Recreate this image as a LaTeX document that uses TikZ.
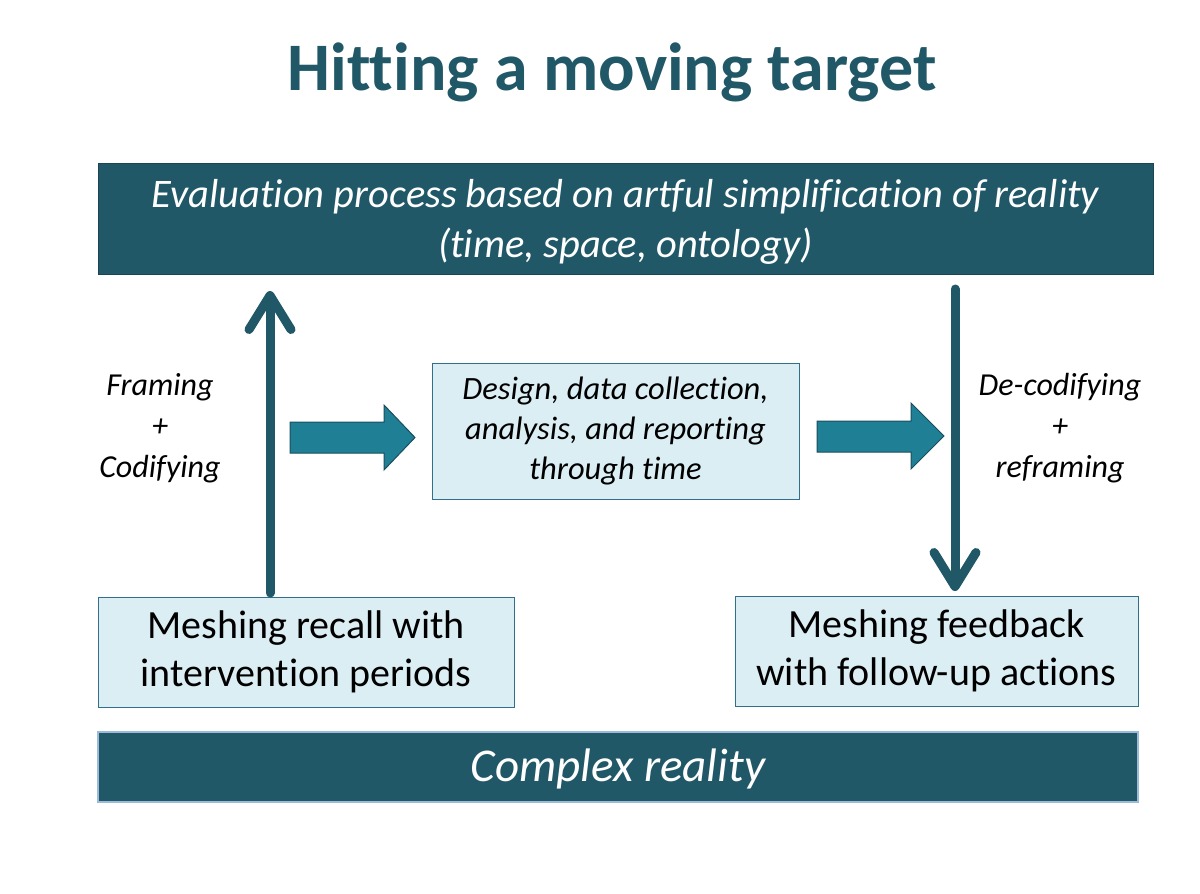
\documentclass[tikz,border=0pt]{standalone}
\usepackage{fontspec}
\setmainfont{Carlito}[Ligatures=NoCommon]
\usetikzlibrary{arrows.meta}
\definecolor{darkteal}{HTML}{215868}
\definecolor{boxline}{HTML}{1B4552}
\definecolor{lightfill}{HTML}{DBEEF4}
\definecolor{lightline}{HTML}{31708A}
\definecolor{blockfill}{HTML}{1F7F95}
\definecolor{blockline}{HTML}{1A4E5E}
\definecolor{paleborder}{HTML}{9BBBD9}
\tikzset{
  darkbox/.style={draw=boxline, line width=1pt, fill=darkteal, text=white, inner sep=0pt},
  lightbox/.style={draw=lightline, line width=1pt, fill=lightfill, text=black, inner sep=0pt, align=center},
  sidelabel/.style={align=center, font=\fontsize{32}{41}\selectfont\itshape, inner sep=0pt},
  bigarrow/.style={draw=darkteal, line width=9pt, line cap=round, -{Straight Barb[length=34pt, width=42pt, round]}},
  blockarrow/.style={fill=blockfill, draw=blockline, line width=1pt, line join=miter}
}
\begin{document}
\begin{tikzpicture}[x=1pt, y=-1pt]
\useasboundingbox (0,0) rectangle (1200,894);
% title
\node[text=darkteal, font=\fontsize{68}{76}\selectfont\bfseries, anchor=base] (title) at (612,90) {Hitting a moving target};
% top box
\draw[darkbox] (98,163) rectangle (1153,274);
\node[text=white, align=center, font=\fontsize{40.5}{50}\selectfont\itshape] (top) at (625.5,222) {Evaluation process based on artful simplification of reality\\(time, space, ontology)};
% bottom box
\draw[fill=darkteal, draw=paleborder, line width=1.2pt] (98,732) rectangle (1138,802);
\node[text=white, font=\fontsize{47}{54}\selectfont\itshape] (reality) at (618,769) {Complex reality};
% left bottom box
\node[lightbox, minimum width=416pt, minimum height=110pt, font=\fontsize{40}{48}\selectfont] (recall) at (306,652) {Meshing recall with\\intervention periods};
% right bottom box
\node[lightbox, minimum width=403pt, minimum height=110pt, font=\fontsize{40}{48}\selectfont] (feedback) at (936.5,651) {Meshing feedback\\with follow-up actions};
% middle box
\node[lightbox, minimum width=367pt, minimum height=136pt, font=\fontsize{32.5}{40}\selectfont\itshape] (design) at (615.5,431) {Design, data collection,\\analysis, and reporting\\through time};
% side labels
\node[sidelabel] (framing) at (160,428) {Framing\\+\\Codifying};
\node[sidelabel] (decod) at (1060,428) {De-codifying\\+\\reframing};
% vertical arrows
\coordinate (upstart) at (270,593);
\coordinate (uptip) at (270,291);
\draw[bigarrow] (upstart) -- (uptip);
\coordinate (downstart) at (955,289);
\coordinate (downtip) at (955,591);
\draw[bigarrow] (downstart) -- (downtip);
% block arrows
\draw[blockarrow] (290,422) -- (384,422) -- (384,405) -- (415,437.5) -- (384,470) -- (384,453) -- (290,453) -- cycle;
\draw[blockarrow] (817,421) -- (911,421) -- (911,403) -- (944,436) -- (911,469) -- (911,452) -- (817,452) -- cycle;
\end{tikzpicture}
\end{document}
